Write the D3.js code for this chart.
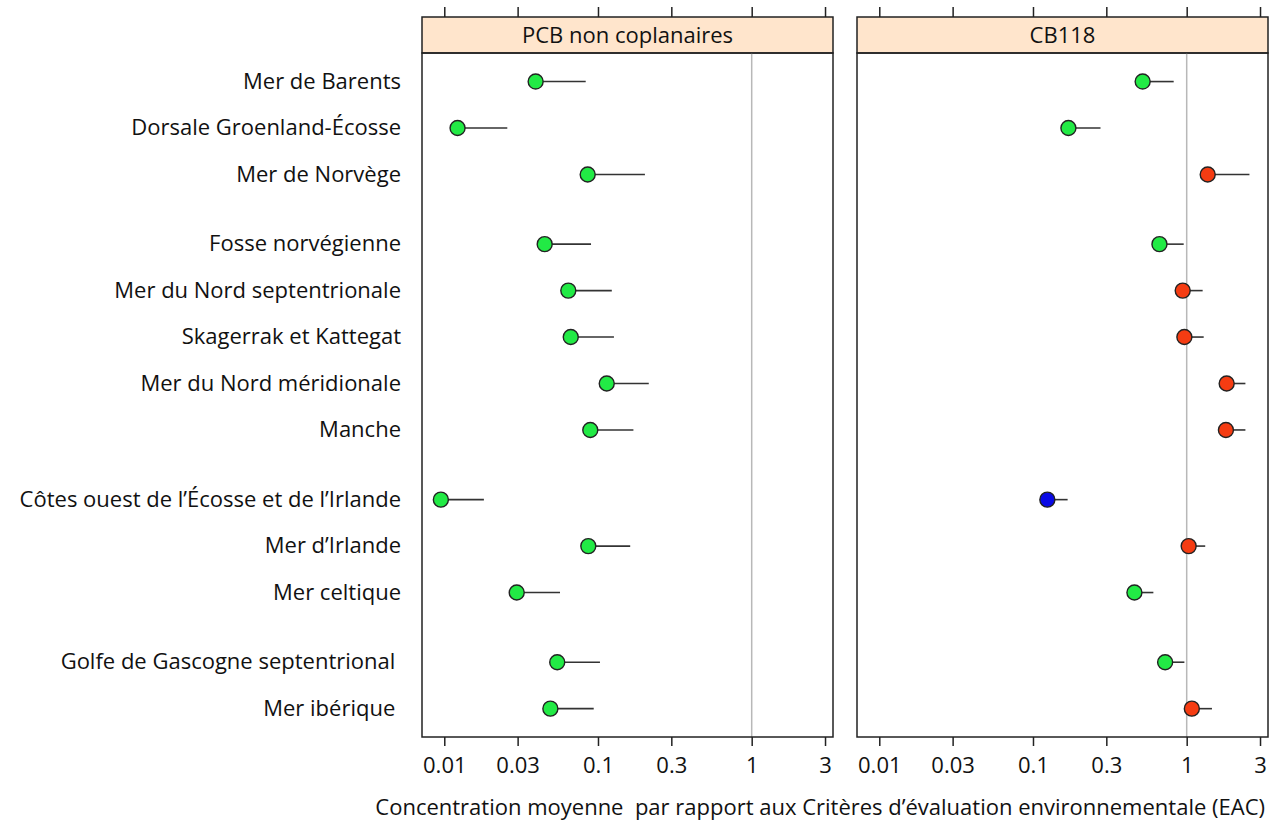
<!DOCTYPE html>
<html>
<head>
<meta charset="utf-8">
<script src="https://cdn.jsdelivr.net/npm/d3@7"></script>
<style>
  body { margin: 0; background: #fff; }
  text { font-family: "Open Sans", "Noto Sans", sans-serif; fill: #111; }
</style>
</head>
<body>
<div id="chart"></div>
<script>
// Data
var regions = [
  "Mer de Barents", "Dorsale Groenland-Écosse", "Mer de Norvège",
  "Fosse norvégienne", "Mer du Nord septentrionale", "Skagerrak et Kattegat",
  "Mer du Nord méridionale", "Manche",
  "Côtes ouest de l’Écosse et de l’Irlande", "Mer d’Irlande", "Mer celtique",
  "Golfe de Gascogne septentrional ", "Mer ibérique "
];
var groups = [0, 0, 0, 1, 1, 1, 1, 1, 2, 2, 2, 3, 3];

var panels = ["PCB non coplanaires", "CB118"];

var pcbMean  = [0.0393, 0.0122, 0.0857, 0.0450, 0.0641, 0.0665, 0.114, 0.0891, 0.0095, 0.0865, 0.0296, 0.0543, 0.0490];
var pcbUpper = [0.0832, 0.0257, 0.202, 0.0901, 0.123, 0.127, 0.214, 0.170, 0.0181, 0.162, 0.0566, 0.103, 0.0938];
var pcbStatus = ["g", "g", "g", "g", "g", "g", "g", "g", "g", "g", "g", "g", "g"];

var cbMean  = [0.517, 0.170, 1.37, 0.665, 0.942, 0.966, 1.82, 1.80, 0.124, 1.03, 0.457, 0.724, 1.08];
var cbUpper = [0.823, 0.275, 2.56, 0.956, 1.27, 1.29, 2.41, 2.41, 0.168, 1.32, 0.607, 0.966, 1.46];
var cbStatus = ["g", "g", "r", "g", "r", "r", "r", "r", "b", "r", "g", "g", "r"];

var tickValues = [0.01, 0.03, 0.1, 0.3, 1, 3];
var tickLabels = ["0.01", "0.03", "0.1", "0.3", "1", "3"];
var xTitle = "Concentration moyenne  par rapport aux Critères d’évaluation environnementale (EAC)";

var statusColor = { g: "#22ea45", r: "#f53c12", b: "#0a0ae6" };

var svgWidth = 1269;
var svgHeight = 820;

var panelX = [422, 857];
var panelW = 411;
var stripTop = 17;
var stripH = 36;
var plotTop = stripTop + stripH;
var plotBottom = 737;
var fontSize = "22px";

var svg = d3.select("#chart")
  .append("svg")
  .attr("width", svgWidth)
  .attr("height", svgHeight);

var x = d3.scaleLog()
  .domain([Math.pow(10, -2.145), Math.pow(10, 0.529)])
  .range([0, panelW]);

var y = d3.scaleLinear()
  .domain([-0.615, 14.11])
  .range([plotTop, plotBottom]);

var rows = regions.map(function(name, i) {
  return {
    name: name,
    pos: i + 0.5 * groups[i],
    values: [
      { mean: pcbMean[i], upper: pcbUpper[i], status: pcbStatus[i] },
      { mean: cbMean[i], upper: cbUpper[i], status: cbStatus[i] }
    ]
  };
});

// Region labels
svg.append("g")
  .selectAll("text")
  .data(rows)
  .enter()
  .append("text")
  .attr("x", 401)
  .attr("y", d => y(d.pos))
  .attr("dy", "0.33em")
  .attr("text-anchor", "end")
  .style("white-space", "pre")
  .style("font-size", fontSize)
  .text(d => d.name);

panels.forEach(function(title, p) {
  var g = svg.append("g")
    .attr("transform", `translate(${panelX[p]}, 0)`);

  // Strip
  g.append("rect")
    .attr("x", 0)
    .attr("y", stripTop)
    .attr("width", panelW)
    .attr("height", stripH)
    .attr("fill", "#ffe5cc")
    .attr("stroke", "#222")
    .attr("stroke-width", 1.5);

  g.append("text")
    .attr("x", panelW / 2)
    .attr("y", stripTop + stripH / 2)
    .attr("dy", "0.35em")
    .attr("text-anchor", "middle")
    .style("font-size", fontSize)
    .text(title);

  // Reference line at 1
  g.append("line")
    .attr("x1", x(1))
    .attr("x2", x(1))
    .attr("y1", plotTop)
    .attr("y2", plotBottom)
    .attr("stroke", "#b8b8b8")
    .attr("stroke-width", 1.5);

  // Whiskers
  g.selectAll(".whisker")
    .data(rows)
    .enter()
    .append("line")
    .attr("class", "whisker")
    .attr("x1", d => x(d.values[p].mean))
    .attr("x2", d => x(d.values[p].upper))
    .attr("y1", d => y(d.pos))
    .attr("y2", d => y(d.pos))
    .attr("stroke", "#333")
    .attr("stroke-width", 1.6);

  // Points
  g.selectAll(".pt")
    .data(rows)
    .enter()
    .append("circle")
    .attr("class", "pt")
    .attr("cx", d => x(d.values[p].mean))
    .attr("cy", d => y(d.pos))
    .attr("r", 7.5)
    .attr("fill", d => statusColor[d.values[p].status])
    .attr("stroke", "#222")
    .attr("stroke-width", 1.4);

  // Panel box
  g.append("rect")
    .attr("x", 0)
    .attr("y", plotTop)
    .attr("width", panelW)
    .attr("height", plotBottom - plotTop)
    .attr("fill", "none")
    .attr("stroke", "#222")
    .attr("stroke-width", 1.5);

  // Axes
  var bottomAxis = d3.axisBottom(x)
    .tickValues(tickValues)
    .tickSize(9)
    .tickPadding(11)
    .tickFormat((d, i) => tickLabels[i]);

  var topAxis = d3.axisTop(x)
    .tickValues(tickValues)
    .tickSize(10)
    .tickFormat("");

  var bAx = g.append("g")
    .attr("transform", `translate(0, ${plotBottom})`)
    .call(bottomAxis);
  bAx.select(".domain").remove();
  bAx.selectAll("line").attr("stroke", "#222").attr("stroke-width", 1.5);
  bAx.selectAll("text")
    .style("font-family", "'Open Sans', 'Noto Sans', sans-serif")
    .style("font-size", fontSize)
    .attr("fill", "#111");

  var tAx = g.append("g")
    .attr("transform", `translate(0, ${stripTop})`)
    .call(topAxis);
  tAx.select(".domain").remove();
  tAx.selectAll("line").attr("stroke", "#222").attr("stroke-width", 1.5);
});

// Axis title
svg.append("text")
  .attr("x", 1265)
  .attr("y", 807)
  .attr("dy", "0.35em")
  .attr("text-anchor", "end")
  .style("white-space", "pre")
  .style("font-size", fontSize)
  .text(xTitle);
</script>
</body>
</html>
